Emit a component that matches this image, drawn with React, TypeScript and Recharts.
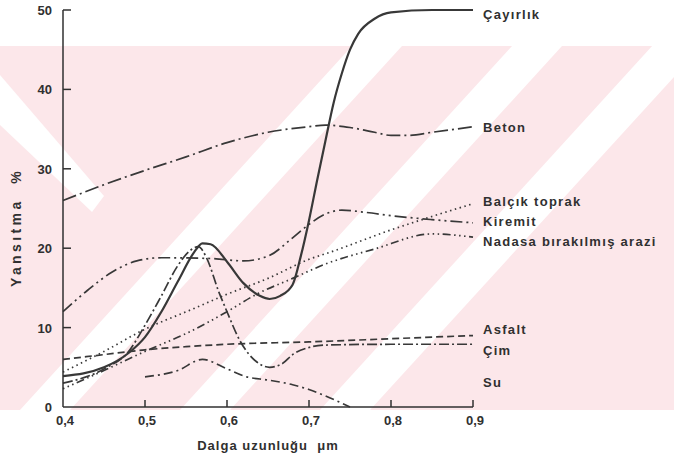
import React from 'react';
import { LineChart, Line, XAxis, YAxis, ReferenceDot } from 'recharts';

const wavelengthTicks = [0.4, 0.5, 0.6, 0.7, 0.8, 0.9];
const reflectanceTicks = [0, 10, 20, 30, 40, 50];

// [dalga boyu (µm), yansıtma (%)]
const cayirlik = [[0.4, 3.9], [0.45, 5], [0.48, 6.8], [0.5, 8.8], [0.52, 12], [0.54, 15.8], [0.56, 19.5], [0.57, 20.6], [0.58, 20.5], [0.6, 18.3], [0.62, 15.6], [0.64, 14], [0.652, 13.6], [0.665, 14], [0.68, 15.4], [0.69, 19], [0.7, 23.5], [0.71, 28.6], [0.72, 33.5], [0.73, 38.3], [0.74, 42], [0.75, 45], [0.76, 47], [0.78, 48.9], [0.8, 49.7], [0.85, 50], [0.9, 50]];
const beton = [[0.4, 26], [0.45, 28], [0.5, 29.8], [0.55, 31.5], [0.6, 33.3], [0.65, 34.6], [0.7, 35.3], [0.72, 35.5], [0.75, 35.2], [0.78, 34.6], [0.8, 34.2], [0.82, 34.2], [0.85, 34.6], [0.9, 35.3]];
const balcik = [[0.4, 4.4], [0.45, 7], [0.5, 9.8], [0.555, 12.2], [0.6, 14.2], [0.65, 16.2], [0.7, 18.6], [0.726, 19.5], [0.8, 22.3], [0.85, 24], [0.9, 25.6]];
const kiremit = [[0.4, 12], [0.43, 14.7], [0.46, 17], [0.49, 18.4], [0.52, 18.8], [0.58, 18.7], [0.62, 18.4], [0.65, 19], [0.68, 21.3], [0.7, 23], [0.72, 24.3], [0.74, 24.8], [0.77, 24.5], [0.8, 24.1], [0.85, 23.6], [0.9, 23.2]];
const nadasa = [[0.4, 2.3], [0.45, 4.6], [0.5, 7], [0.555, 9.5], [0.6, 12], [0.636, 14.2], [0.68, 16.2], [0.72, 18], [0.78, 19.9], [0.85, 21.8], [0.9, 21.4]];
const asfalt = [[0.4, 6], [0.45, 6.6], [0.5, 7.2], [0.55, 7.6], [0.6, 7.9], [0.7, 8.2], [0.8, 8.6], [0.9, 9]];
const cim = [[0.4, 3], [0.45, 4.8], [0.48, 7], [0.5, 10.3], [0.52, 14], [0.54, 17.8], [0.555, 19.7], [0.565, 20.2], [0.575, 18.8], [0.59, 14.5], [0.6, 12], [0.616, 8.3], [0.636, 5.7], [0.652, 5], [0.668, 5.5], [0.68, 6.6], [0.7, 7.5], [0.72, 7.8], [0.8, 7.9], [0.9, 7.9]];
const su = [[0.5, 3.8], [0.54, 4.6], [0.57, 6], [0.6, 4.8], [0.624, 3.8], [0.65, 3.4], [0.68, 2.8], [0.7, 2.2], [0.72, 1.4], [0.75, 0]];

const toPoints = (rows: number[][]) => rows.map(([w, v]) => ({ w, v }));

const INK = '#303030';
const LINE = '#383838';
const FONT = '"Liberation Sans", Arial, sans-serif';

const series = [
  { name: 'Çayırlık', rows: cayirlik, dash: undefined, width: 2.2, dy: 4 },
  { name: 'Beton', rows: beton, dash: '14 4 2 4', width: 1.7, dy: 0 },
  { name: 'Balçık toprak', rows: balcik, dash: '1.5 3.5', width: 1.7, dy: -3 },
  { name: 'Kiremit', rows: kiremit, dash: '12 4 2 4 2 4', width: 1.7, dy: -2 },
  { name: 'Nadasa bırakılmış arazi', rows: nadasa, dash: '1.5 3.5 1.5 3.5 1.5 3.5 8 3.5', width: 1.7, dy: 4 },
  { name: 'Asfalt', rows: asfalt, dash: '7 4', width: 1.7, dy: -7 },
  { name: 'Çim', rows: cim, dash: '10 3 2 3', width: 1.7, dy: 6 },
  { name: 'Su', rows: su, dash: '9 4 2 4', width: 1.7, dy: 0 },
];

const YTick = (p: any) => {
  const { x, y, payload } = p;
  return (
    <g>
      {payload.value !== 0 && <line x1={x} x2={x + 8} y1={y} y2={y} stroke={INK} strokeWidth={1.5} />}
      <text x={x - 11} y={y + 5} textAnchor="end" fontSize={13} fontWeight="bold" fontFamily={FONT} fill={INK}>
        {payload.value}
      </text>
    </g>
  );
};

const XTick = (p: any) => {
  const { x, y, payload } = p;
  return (
    <g>
      {payload.value !== 0.4 && <line x1={x} x2={x} y1={y} y2={y - 7} stroke={INK} strokeWidth={1.5} />}
      <text x={x + 2} y={y + 18} textAnchor="middle" fontSize={13} fontWeight="bold" fontFamily={FONT} fill={INK}>
        {payload.value.toFixed(1).replace('.', ',')}
      </text>
    </g>
  );
};

const endLabel = (text: string, count: number, dy: number) => (p: any) => {
  if (p.index !== count - 1) return null;
  return (
    <text x={p.x + 10} y={p.y + dy + 5} fontSize={13} fontWeight="bold" fontFamily={FONT} fill={INK} letterSpacing={1.3}>
      {text}
    </text>
  );
};

const Watermark = () => (
  <svg width={674} height={460} style={{ position: 'absolute', left: 0, top: 0 }}>
    <rect x={0} y={46} width={674} height={364} fill="#fce7ea" />
    <g fill="#fff">
      <polygon points="20,410 70,410 402,46 352,46" />
      <polygon points="180,410 230,410 562,46 512,46" />
      <polygon points="320,410 370,410 674,77 674,22" />
      <polygon points="0,75 0,125 92,212 104,196" />
    </g>
  </svg>
);

export default function App() {
  return (
    <div style={{ position: 'relative', width: 674, height: 460, background: '#fff' }}>
      <style>{'body{margin:0}'}</style>
      <Watermark />
      <div style={{ position: 'absolute', left: 0, top: 0 }}>
        <LineChart width={674} height={460} margin={{ top: 10, right: 201, bottom: 8, left: 8 }}>
          <XAxis
            type="number"
            dataKey="w"
            domain={[0.4, 0.9]}
            ticks={wavelengthTicks}
            tickSize={0}
            tickMargin={0}
            height={45}
            tick={XTick}
            axisLine={{ stroke: INK, strokeWidth: 1.5 }}
            label={(p: any) => (
              <text x={p.viewBox.x + p.viewBox.width / 2} y={p.viewBox.y + 43} textAnchor="middle" fontSize={13} fontWeight="bold" fontFamily={FONT} fill={INK} letterSpacing={1}>
                {'Dalga uzunluğu\u00A0\u00A0μm'}
              </text>
            )}
          />
          <YAxis
            type="number"
            dataKey="v"
            domain={[0, 50]}
            ticks={reflectanceTicks}
            tickSize={0}
            tickMargin={0}
            width={55}
            tick={YTick}
            axisLine={{ stroke: INK, strokeWidth: 1.5 }}
            label={(p: any) => {
              const cx = p.viewBox.x + 13;
              const cy = p.viewBox.y + p.viewBox.height / 2 + 19;
              return (
                <text x={cx} y={cy} transform={`rotate(-90 ${cx} ${cy})`} textAnchor="middle" fontSize={14} fontWeight="bold" fontFamily={FONT} fill={INK} letterSpacing={3.4}>
                  {'Yansıtma\u00A0\u00A0%'}
                </text>
              );
            }}
          />
          {series.map((s) => (
            <Line
              key={s.name}
              data={toPoints(s.rows)}
              dataKey="v"
              type="monotone"
              stroke={LINE}
              strokeWidth={s.width}
              strokeDasharray={s.dash}
              dot={false}
              activeDot={false}
              isAnimationActive={false}
              label={s.name === 'Su' ? undefined : endLabel(s.name, s.rows.length, s.dy)}
            />
          ))}
          <ReferenceDot
            x={0.9}
            y={3.2}
            r={0}
            fill="none"
            stroke="none"
            label={(p: any) => (
              <text x={p.viewBox.x + 10} y={p.viewBox.y + 5} fontSize={13} fontWeight="bold" fontFamily={FONT} fill={INK} letterSpacing={1.3}>
                Su
              </text>
            )}
          />
        </LineChart>
      </div>
    </div>
  );
}
